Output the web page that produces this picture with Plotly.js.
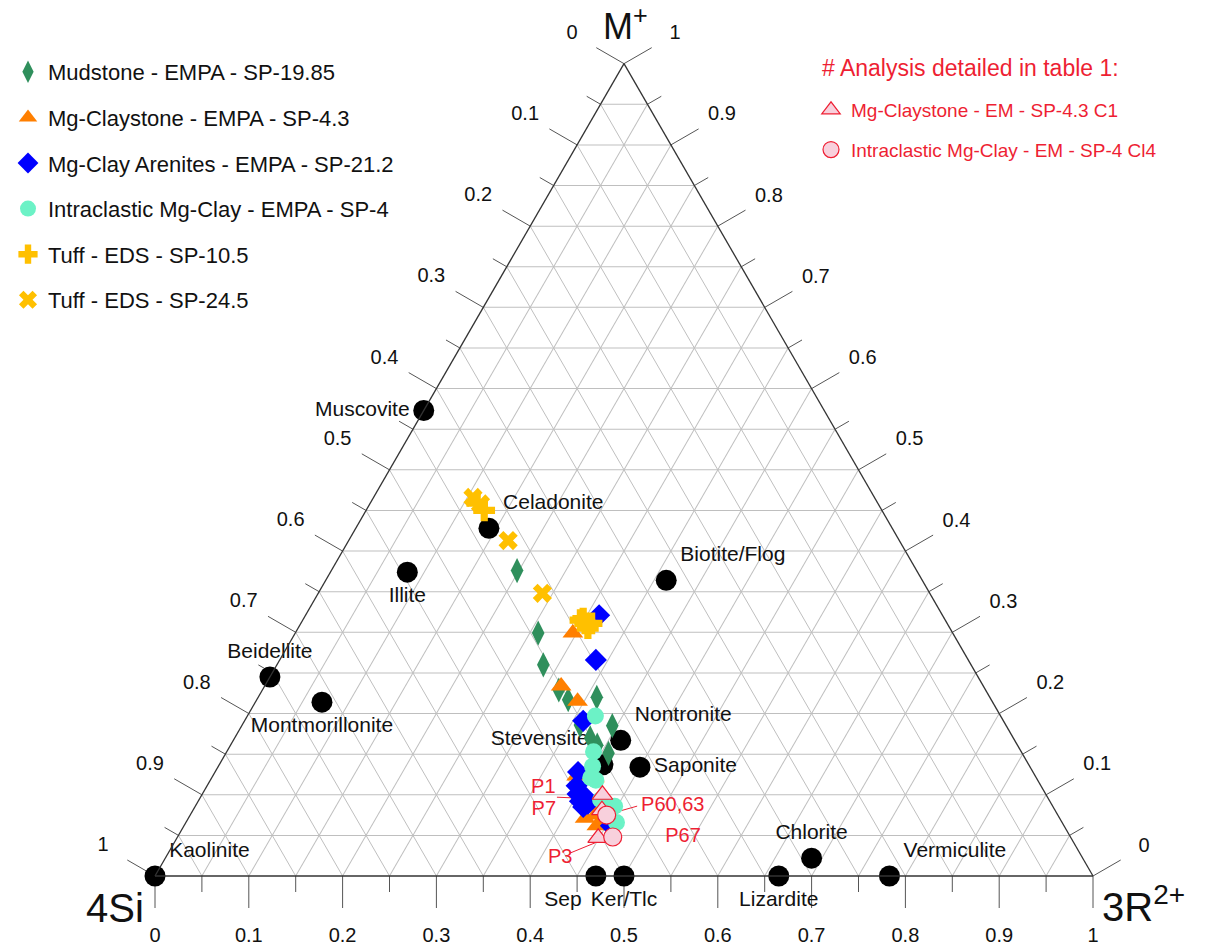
<!DOCTYPE html>
<html><head><meta charset="utf-8">
<script src="https://cdn.plot.ly/plotly-3.0.1.min.js"></script>
<style>html,body{margin:0;padding:0;background:#fff}</style>
</head><body><div id="chart" style="width:1215px;height:949px"></div>
<script>
const FONT = 'Arial, "Liberation Sans", sans-serif';
const RED = '#ee1f33';

// ---- axis ticks (fractions; left = 4Si, bottom = 3R2+, right = M+) ----
const majorVals = [0,0.1,0.2,0.3,0.4,0.5,0.6,0.7,0.8,0.9,1];
const majorText = ['0','0.1','0.2','0.3','0.4','0.5','0.6','0.7','0.8','0.9','1'];
const minorVals = [0.05,0.15,0.25,0.35,0.45,0.55,0.65,0.75,0.85,0.95];
const gridVals  = [0,0.05,0.1,0.15,0.2,0.25,0.3,0.35,0.4,0.45,0.5,0.55,0.6,0.65,0.7,0.75,0.8,0.85,0.9,0.95,1];

// ---- end-members (M+ fraction, 3R2+ fraction; 4Si = remainder) ----
const emNames = ['Kaolinite','Muscovite','Illite','Celadonite','Biotite/Flog','Beidellite','Montmorillonite','Nontronite','Stevensite','Saponite','Chlorite','Vermiculite','Lizardite','Sep','Ker/Tlc'];
const emM = [0,0.573,0.374,0.428,0.364,0.245,0.214,0.167,0.137,0.134,0.022,0,0,0,0];
const emR = [0,0,0.082,0.142,0.363,0,0.071,0.413,0.409,0.450,0.689,0.783,0.665,0.470,0.500];
const emTextPos = ['top right','middle left','bottom center','top right','top right','top center','bottom center','top right','top left','middle right','top center','top right','bottom center','bottom left','bottom center'];

// ---- Mudstone - EMPA - SP-19.85 ----
const mudM = [0.376,0.299,0.260,0.229,0.217,0.220,0.186,0.170,0.185,0.161,0.151];
const mudR = [0.198,0.259,0.284,0.316,0.332,0.361,0.360,0.379,0.395,0.391,0.408];
// ---- Mg-Claystone - EMPA - SP-4.3 ----
const clayM = [0.299,0.234,0.215,0.123,0.121,0.087,0.075,0.062,0.071,0.066];
const clayR = [0.296,0.316,0.343,0.388,0.408,0.420,0.432,0.440,0.423,0.444];
// ---- Mg-Clay Arenites - EMPA - SP-21.2 ----
const areM = [0.321,0.266,0.191,0.128,0.111,0.101,0.092,0.098,0.085,0.089,0.062];
const areR = [0.313,0.337,0.361,0.387,0.394,0.400,0.407,0.409,0.414,0.417,0.455];
// ---- Intraclastic Mg-Clay - EMPA - SP-4 ----
const intM = [0.197,0.153,0.135,0.118,0.121,0.086,0.066,0.094];
const intR = [0.371,0.391,0.399,0.411,0.404,0.447,0.459,0.428];
// ---- Tuff - EDS - SP-10.5 ----
const t105M = [0.459,0.450,0.315,0.311,0.305,0.311,0.317];
const t105R = [0.114,0.126,0.296,0.303,0.309,0.310,0.298];
// ---- Tuff - EDS - SP-24.5 ----
const t245M = [0.466,0.458,0.413,0.348];
const t245R = [0.106,0.118,0.170,0.239];
// ---- Mg-Claystone - EM - SP-4.3 C1 ----
const emcM = [0.100,0.081,0.047];
const emcR = [0.427,0.436,0.449];
// ---- Intraclastic Mg-Clay - EM - SP-4 Cl4 ----
const emiM = [0.075,0.048];
const emiR = [0.444,0.464];
// ---- point labels ----
const pLabels = ['P1','P7','P60,63','P67','P3'];
const pLabM = [0.108,0.081,0.086,0.048,0.022];
const pLabR = [0.360,0.374,0.509,0.539,0.421];
const leadM = [0.097,0.095,null,0.079,0.086,null,0.028,0.041];
const leadR = [0.380,0.423,null,0.453,0.471,null,0.428,0.449];

// ---- geometry of the overlay axes (triangle side = 1 unit) ----
const W = 1215, Hh = 949;
const X0 = 155, YB = 876;                 // bottom-left vertex in page pixels
const SIDE = 938, TRI_H = SIDE * Math.sqrt(3) / 2;
const dom = {x:[X0/W, (X0+SIDE)/W], y:[(Hh-YB)/Hh, (Hh-YB+TRI_H)/Hh]};
const S3 = Math.sqrt(3)/2;
const PX = 1/SIDE; // one pixel in overlay units
function edge(side, v) {
  if (side === 'left')   return {p:[(1-v)/2, (1-v)*S3], n:[-S3, 0.5]};
  if (side === 'right')  return {p:[1-v/2, v*S3], n:[S3, 0.5]};
  return {p:[v, 0], n:[0, -1]};
}
function tickTrace(vals, len) {
  const x = [], y = [];
  ['left','right','bottom'].forEach(s => vals.forEach(v => {
    const e = edge(s, v);
    x.push(e.p[0], e.p[0] + e.n[0]*len*PX, null);
    y.push(e.p[1], e.p[1] + e.n[1]*len*PX, null);
  }));
  return {type:'scatter', xaxis:'x', yaxis:'y', x, y, mode:'lines', line:{color:'#555', width:1}, cliponaxis:false, hoverinfo:'skip', showlegend:false};
}
function labelTrace() {
  const x = [], y = [], t = [];
  const off = {left:60, right:59, bottom:61};
  ['left','right','bottom'].forEach(s => majorVals.forEach((v, i) => {
    const e = edge(s, v);
    x.push(e.p[0] + e.n[0]*off[s]*PX); y.push(e.p[1] + e.n[1]*off[s]*PX); t.push(majorText[i]);
  }));
  return {type:'scatter', xaxis:'x', yaxis:'y', x, y, text:t, mode:'text', textposition:'middle center',
    textfont:{family:FONT, size:20, color:'#111'}, cliponaxis:false, hoverinfo:'skip', showlegend:false};
}

const base = {type:'scatterternary', subplot:'ternary', cliponaxis:false, hoverinfo:'a+b+c+name'};
function series(name, M, R, marker, legend, group) {
  return Object.assign({}, base, {name, a:M, c:R, mode:'markers', marker, legend, legendgroup:group});
}

const traces = [
  tickTrace(majorVals, 32),
  tickTrace(minorVals, 16),
  labelTrace(),
  Object.assign({}, base, {name:'End-members', a:emM, c:emR, text:emNames, mode:'markers+text', textposition:emTextPos,
    textfont:{family:FONT, size:21, color:'#111'}, marker:{symbol:'circle', size:21, color:'#000'}, showlegend:false}),
  Object.assign({}, base, {name:'leaders', a:leadM, c:leadR, mode:'lines', line:{color:RED, width:1}, connectgaps:false, hoverinfo:'skip', showlegend:false}),
  series('Mudstone - EMPA - SP-19.85', mudM, mudR, {symbol:'diamond-tall', size:18, color:'#2f8f5c'}, 'legend', 'g1'),
  series('Mg-Claystone - EMPA - SP-4.3', clayM, clayR, {symbol:'triangle-up', size:18, color:'#ff7f00'}, 'legend', 'g2'),
  series('Mg-Clay Arenites - EMPA - SP-21.2', areM, areR, {symbol:'diamond', size:17, color:'#0000ff'}, 'legend', 'g3'),
  series('Intraclastic Mg-Clay - EMPA - SP-4', intM, intR, {symbol:'circle', size:17, color:'#6cf2c6'}, 'legend', 'g4'),
  series('Tuff - EDS - SP-10.5', t105M, t105R, {symbol:'cross', size:18, color:'#ffc000'}, 'legend', 'g5'),
  series('Tuff - EDS - SP-24.5', t245M, t245R, {symbol:'x', size:17, color:'#ffc000'}, 'legend', 'g6'),
  series('Mg-Claystone - EM - SP-4.3 C1', emcM, emcR, {symbol:'triangle-up', size:18, color:'#f8d0dc', line:{color:RED, width:1.2}}, 'legend2', 'h1'),
  series('Intraclastic Mg-Clay - EM - SP-4 Cl4', emiM, emiR, {symbol:'circle', size:18, color:'#f8d0dc', line:{color:RED, width:1.2}}, 'legend2', 'h2'),
  Object.assign({}, base, {name:'labels', a:pLabM, c:pLabR, text:pLabels, mode:'text', textposition:'middle center',
    textfont:{family:FONT, size:20, color:RED}, hoverinfo:'skip', showlegend:false})
];

function gridAxis() {
  return {min:0, tickmode:'array', tickvals:gridVals, showticklabels:false, ticks:'',
    showgrid:true, gridcolor:'#bfbfbf', gridwidth:1, showline:true, linecolor:'#333', linewidth:1.3,
    title:{text:' ', font:{size:1, color:'rgba(0,0,0,0)'}}};
}
const titleFontTop = {family:FONT, size:36, color:'#111'};
const titleFont = {family:FONT, size:40, color:'#111'};

const layout = {
  width:W, height:Hh, margin:{l:0,r:0,t:0,b:0}, paper_bgcolor:'#fff', plot_bgcolor:'rgba(0,0,0,0)', font:{family:FONT, color:'#111'},
  // overlay axes span the whole page so that ticks and labels outside the triangle stay inside their range
  xaxis:{domain:[0,1], range:[-X0*PX, (W-X0)*PX], visible:false, fixedrange:true},
  yaxis:{domain:[0,1], range:[-(Hh-YB)*PX, YB*PX], visible:false, fixedrange:true},
  ternary:{domain:dom, sum:1, bgcolor:'#fff', aaxis:gridAxis(), baxis:gridAxis(), caxis:gridAxis()},
  annotations:[
    {xref:'x', yref:'y', x:0.5, y:S3, text:'M<sup>+</sup>', showarrow:false, font:titleFontTop, xanchor:'center', yanchor:'middle', xshift:1, yshift:40},
    {xref:'x', yref:'y', x:0, y:0, text:'4Si', showarrow:false, font:titleFont, xanchor:'center', yanchor:'middle', xshift:-40, yshift:-32},
    {xref:'x', yref:'y', x:1, y:0, text:'3R<sup>2+</sup>', showarrow:false, font:titleFont, xanchor:'center', yanchor:'middle', xshift:50, yshift:-28},
    {xref:'paper', yref:'paper', x:820/W, y:1-68/Hh, text:'# Analysis detailed in table 1:', showarrow:false,
      font:{family:FONT, size:23, color:RED}, xanchor:'left', yanchor:'middle'}
  ],
  legend:{x:8/W, xanchor:'left', y:1-51/Hh, yanchor:'top', bgcolor:'rgba(0,0,0,0)', font:{family:FONT, size:22, color:'#111'}, tracegroupgap:14},
  legend2:{x:811/W, xanchor:'left', y:1-91/Hh, yanchor:'top', bgcolor:'rgba(0,0,0,0)', font:{family:FONT, size:19, color:RED}, tracegroupgap:12},
  showlegend:true
};

Plotly.newPlot('chart', traces, layout, {displayModeBar:false, staticPlot:true});
</script></body></html>
